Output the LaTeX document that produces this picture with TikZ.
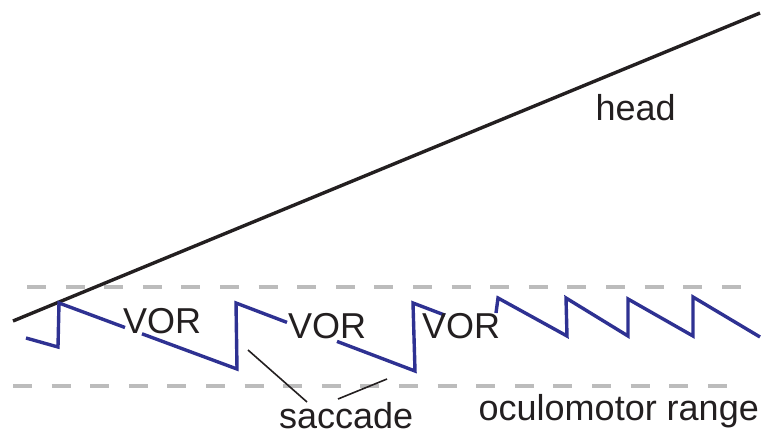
\documentclass[tikz,border=0pt]{standalone}
\usepackage{fontspec}
\setmainfont{Liberation Sans}
\definecolor{eyeblue}{RGB}{46,49,146}
\definecolor{ink}{RGB}{35,31,32}
\definecolor{rangegray}{RGB}{188,188,188}
\begin{document}
\begin{tikzpicture}[x=1pt,y=-1pt,
  lbl/.style={anchor=base west,inner sep=0pt,outer sep=0pt,text=ink,font=\fontsize{36}{40}\selectfont},
  eye/.style={draw=eyeblue,line width=3.4pt,line join=miter,line cap=butt},
  headline/.style={draw=ink,line width=3.4pt},
  rangeline/.style={draw=rangegray,line width=4pt,dash pattern=on 19pt off 19.6pt},
  leader/.style={draw=ink,line width=1.6pt}]
\useasboundingbox (0,0) rectangle (784,434);
% oculomotor range limits
\coordinate (rt0) at (27,287);
\coordinate (rt1) at (758,287);
\coordinate (rb0) at (13,386);
\coordinate (rb1) at (745,386);
\draw[rangeline] (rt0) -- (rt1);
\draw[rangeline] (rb0) -- (rb1);
% head trajectory
\coordinate (h0) at (13,321);
\coordinate (h1) at (760,13);
\draw[headline] (h0) -- (h1);
% eye trajectory (VOR slow phases and saccades)
\draw[eye] (26,338) -- (58,347) -- (59,303) -- (125,327.5);
\draw[eye] (142,333.8) -- (237,369) -- (236,303) -- (287,322.4);
\draw[eye] (337,341.4) -- (415,371) -- (413,303) -- (445,315.2);
\draw[eye] (496,313) -- (498,298) -- (567,336) -- (566,298) -- (628,336)
  -- (628,299) -- (693,336) -- (693,297) -- (760,337);
% labels
\node[lbl] (head) at (595.6,120) {head};
\node[lbl] (vor1) at (123,333) {VOR};
\node[lbl] (vor2) at (288,338) {VOR};
\node[lbl] (vor3) at (422,338) {VOR};
\node[lbl] (sacc) at (279,428.5) {saccade};
\node[lbl] (range) at (478.7,420) {oculomotor range};
% saccade leaders
\coordinate (s1a) at (248,350);
\coordinate (s1b) at (307,402);
\coordinate (s2a) at (338,399);
\coordinate (s2b) at (387,379);
\draw[leader] (s1a) -- (s1b);
\draw[leader] (s2a) -- (s2b);
\end{tikzpicture}
\end{document}
